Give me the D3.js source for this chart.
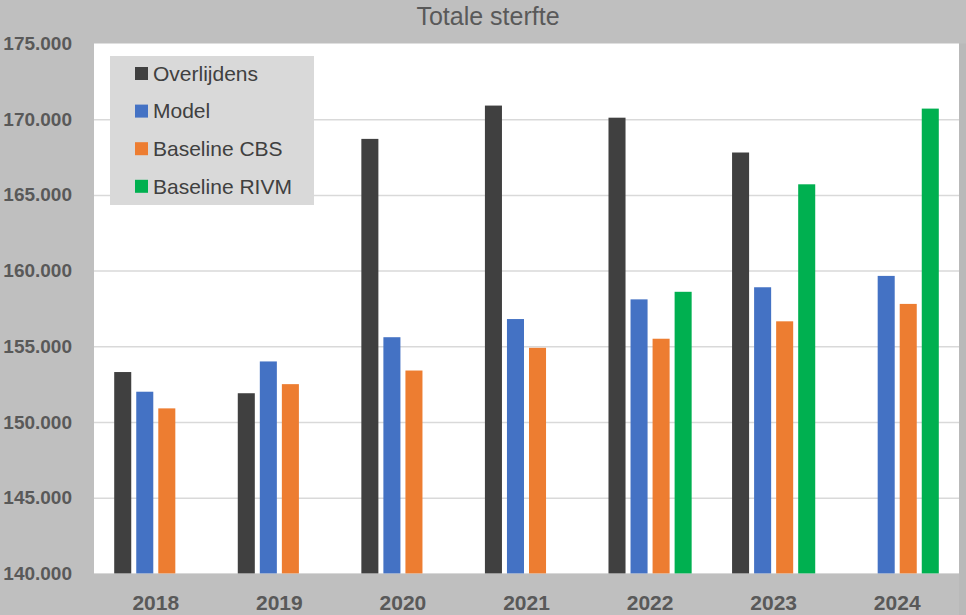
<!DOCTYPE html>
<html>
<head>
<meta charset="utf-8">
<script src="https://cdn.jsdelivr.net/npm/d3@7"></script>
<style>
  html, body { margin: 0; padding: 0; background: #bfbfbf; }
  svg { display: block; }
</style>
</head>
<body>
<svg id="chart" width="966" height="615"></svg>
<script>
const years = ["2018", "2019", "2020", "2021", "2022", "2023", "2024"];
const seriesNames = ["Overlijdens", "Model", "Baseline CBS", "Baseline RIVM"];
const overlijdens = [153300, 151900, 168700, 170900, 170100, 167800, null];
const model = [152000, 154000, 155600, 156800, 158100, 158900, 159650];
const baselineCBS = [150900, 152500, 153400, 154900, 155500, 156650, 157800];
const baselineRIVM = [null, null, null, null, 158600, 165700, 170700];
const yTicks = [140000, 145000, 150000, 155000, 160000, 165000, 170000, 175000];
const colors = ["#404040", "#4472C4", "#ED7D31", "#00B050"];
const title = "Totale sterfte";

const seriesValues = [overlijdens, model, baselineCBS, baselineRIVM];

const svg = d3.select("#chart");
const W = 966, H = 615;
const plot = { left: 94, right: 959, top: 43.5, bottom: 573.4 };

svg.append("rect").attr("width", W).attr("height", H).attr("fill", "#bfbfbf");
svg.append("rect")
  .attr("x", plot.left).attr("y", plot.top)
  .attr("width", plot.right - plot.left).attr("height", plot.bottom - plot.top)
  .attr("fill", "#ffffff");
svg.append("rect")
  .attr("x", plot.right).attr("y", plot.top)
  .attr("width", W - plot.right).attr("height", H - plot.top)
  .attr("fill", "#b9b9b9");

const y = d3.scaleLinear().domain([140000, 175000]).range([plot.bottom, plot.top]);
const x0 = d3.scaleBand().domain(years).range([plot.left, plot.right])
  .paddingInner(0.327).paddingOuter(0.1635);
const x1 = d3.scaleBand().domain(seriesNames).range([0, x0.bandwidth()])
  .paddingInner(0.227).paddingOuter(0);

const nl = d3.formatLocale({ decimal: ",", thousands: ".", grouping: [3], currency: ["€", ""] });
const fmt = nl.format(",d");

// gridlines
const grid = svg.append("g").attr("transform", `translate(${plot.left},0)`)
  .call(d3.axisLeft(y).tickValues(yTicks.slice(1, -1)).tickSize(-(plot.right - plot.left)).tickFormat(""));
grid.select(".domain").remove();
grid.selectAll("line").attr("stroke", "#d9d9d9").attr("stroke-width", 1.5);

// y axis labels
const yAxis = svg.append("g").attr("transform", `translate(${plot.left},0)`)
  .call(d3.axisLeft(y).tickValues(yTicks).tickSize(0).tickPadding(22).tickFormat(fmt));
yAxis.select(".domain").remove();
yAxis.selectAll("text")
  .attr("fill", "#595959")
  .style("font-family", "'Liberation Sans', Arial, sans-serif")
  .style("font-weight", "bold")
  .style("font-size", "19px");

// x axis labels
const xAxis = svg.append("g").attr("transform", `translate(0,${plot.bottom})`)
  .call(d3.axisBottom(x0).tickSize(0).tickPadding(22));
xAxis.select(".domain").remove();
xAxis.selectAll("text")
  .attr("fill", "#595959")
  .style("font-family", "'Liberation Sans', Arial, sans-serif")
  .style("font-weight", "bold")
  .style("font-size", "21px");

// bars
const rows = [];
years.forEach((yr, i) => {
  seriesNames.forEach((s, j) => {
    const v = seriesValues[j][i];
    if (v !== null && v !== undefined) rows.push({ year: yr, series: s, value: v, idx: j });
  });
});
svg.append("g").selectAll("rect").data(rows).join("rect")
  .attr("x", d => x0(d.year) + x1(d.series))
  .attr("y", d => y(d.value))
  .attr("width", x1.bandwidth())
  .attr("height", d => y(140000) - y(d.value))
  .attr("fill", d => colors[d.idx]);

// title
svg.append("text")
  .attr("x", 488).attr("y", 25)
  .attr("text-anchor", "middle")
  .attr("fill", "#595959")
  .style("font-family", "'Liberation Sans', Arial, sans-serif")
  .style("font-size", "25px")
  .text(title);

// legend
const legend = svg.append("g");
legend.append("rect")
  .attr("x", 110).attr("y", 56).attr("width", 204).attr("height", 149)
  .attr("fill", "#d9d9d9");
const items = legend.selectAll("g.item").data(seriesNames).join("g")
  .attr("class", "item")
  .attr("transform", (d, i) => `translate(135,${73.5 + i * 37.6})`);
items.append("rect")
  .attr("x", 0).attr("y", -6.5).attr("width", 13).attr("height", 13)
  .attr("fill", (d, i) => colors[i]);
items.append("text")
  .attr("x", 18).attr("y", 0).attr("dy", "0.35em")
  .attr("fill", "#404040")
  .style("font-family", "'Liberation Sans', Arial, sans-serif")
  .style("font-size", "21px")
  .text(d => d);
</script>
</body>
</html>
